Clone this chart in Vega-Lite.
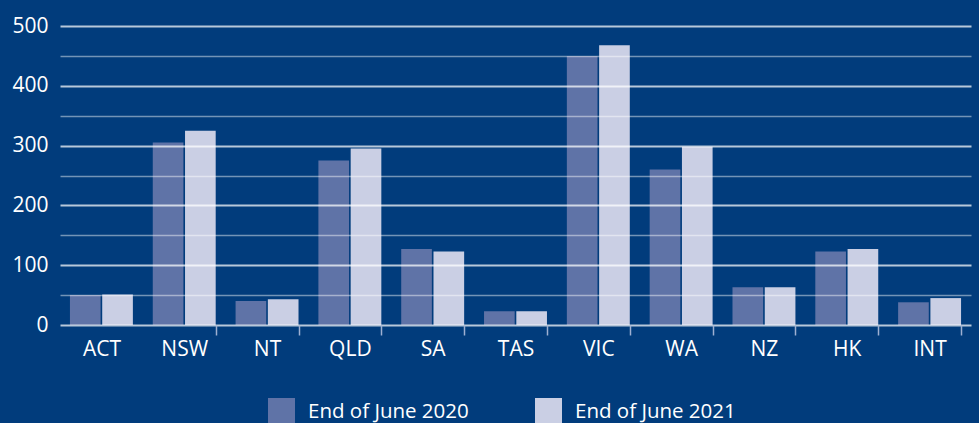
{
  "$schema": "https://vega.github.io/schema/vega-lite/v6.json",
  "autosize": {"type": "none"},
  "width": 911,
  "height": 299,
  "padding": {"left": 60, "top": 26, "right": 8, "bottom": 98},
  "background": "#013c7c",
  "config": {
    "view": {"stroke": null},
    "font": "Open Sans",
    "axis": {"labelFont": "Open Sans", "labelColor": "#ffffff", "labelFontSize": 21}
  },
  "data": {
    "values": [
      {"region": "ACT", "period": "End of June 2020", "value": 50},
      {"region": "ACT", "period": "End of June 2021", "value": 51},
      {"region": "NSW", "period": "End of June 2020", "value": 305},
      {"region": "NSW", "period": "End of June 2021", "value": 325},
      {"region": "NT", "period": "End of June 2020", "value": 40},
      {"region": "NT", "period": "End of June 2021", "value": 43},
      {"region": "QLD", "period": "End of June 2020", "value": 275},
      {"region": "QLD", "period": "End of June 2021", "value": 295},
      {"region": "SA", "period": "End of June 2020", "value": 127},
      {"region": "SA", "period": "End of June 2021", "value": 123},
      {"region": "TAS", "period": "End of June 2020", "value": 23},
      {"region": "TAS", "period": "End of June 2021", "value": 23},
      {"region": "VIC", "period": "End of June 2020", "value": 450},
      {"region": "VIC", "period": "End of June 2021", "value": 468},
      {"region": "WA", "period": "End of June 2020", "value": 260},
      {"region": "WA", "period": "End of June 2021", "value": 298},
      {"region": "NZ", "period": "End of June 2020", "value": 63},
      {"region": "NZ", "period": "End of June 2021", "value": 63},
      {"region": "HK", "period": "End of June 2020", "value": 123},
      {"region": "HK", "period": "End of June 2021", "value": 127},
      {"region": "INT", "period": "End of June 2020", "value": 38},
      {"region": "INT", "period": "End of June 2021", "value": 45}
    ]
  },
  "mark": {"type": "bar"},
  "encoding": {
    "x": {
      "field": "region",
      "type": "nominal",
      "sort": null,
      "scale": {"paddingInner": 0.24, "paddingOuter": 0.12},
      "axis": {
        "title": null,
        "labelAngle": 0,
        "domain": false,
        "tickBand": "extent",
        "tickSize": 10,
        "tickWidth": 1.5,
        "tickColor": "#9fb0d2",
        "tickOpacity": {"condition": {"test": "datum.value === 'ACT' || !!datum.extra || datum.index < 0", "value": 0}, "value": 1},
        "labelPadding": 3,
        "zindex": 1
      }
    },
    "xOffset": {
      "field": "period",
      "type": "nominal",
      "scale": {"paddingInner": 0.05}
    },
    "y": {
      "field": "value",
      "type": "quantitative",
      "scale": {"domain": [0, 500], "nice": false},
      "axis": {
        "title": null,
        "values": [0, 50, 100, 150, 200, 250, 300, 350, 400, 450, 500],
        "labelExpr": "datum.value % 100 === 0 ? datum.label : ''",
        "domain": false,
        "ticks": false,
        "labelPadding": 12,
        "grid": true,
        "gridColor": "#ffffff",
        "gridOpacity": {"condition": {"test": "datum.value % 100 === 0", "value": 0.72}, "value": 0.45},
        "gridWidth": {"condition": {"test": "datum.value % 100 === 0", "value": 2}, "value": 1.5},
        "zindex": 1
      }
    },
    "color": {
      "field": "period",
      "type": "nominal",
      "scale": {"range": ["#5f73a7", "#cacfe4"]},
      "legend": {
        "title": null,
        "orient": "none",
        "legendX": 208,
        "legendY": 372,
        "direction": "horizontal",
        "symbolType": "square",
        "symbolSize": 729,
        "symbolStrokeWidth": 0,
        "symbolOpacity": 1,
        "labelColor": "#ffffff",
        "labelFont": "Open Sans",
        "labelFontSize": 20.5,
        "labelLimit": 400,
        "labelOffset": 13,
        "columnPadding": 66
      }
    }
  }
}
